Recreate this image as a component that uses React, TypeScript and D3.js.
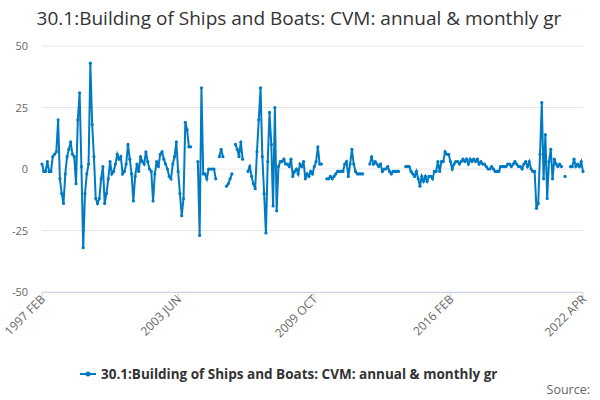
import React, { useEffect, useRef } from 'react';
import * as d3 from 'd3';

// monthly values, 1997 FEB .. 2022 APR (null = no data)
const values: (number | null)[] = [
  2, -1, -1, 3, -1, -1, 5, 6, 7, 20, -4, -10, -14,
  -2, 5, 8, 11, 6, 5, -6, 20, 31, 1, -32, -10,
  -2, 2, 43, 18, 5, -12, -14, -12, -4, 1, -14, -10,
  -4, 3, -2, -1, 2, 6, 4, 5, -2, -1, 2, 10,
  4, -2, -13, -3, 2, -1, 5, 3, 2, 7, 3, 0,
  -1, -13, -2, 3, 1, 6, 7, 4, 2, 0, -3, -4,
  2, 5, 11, -1, -10, -19, -12, 19, 16, 9, 9, null,
  null, null, 3, -27, 33, -2, -2, -4, 0, 0, 0, 0,
  -4, null, 5, 8, 5, null, -7, -6, -4, -2, null,
  10, 8, 5, 11, 4, null, null, -1, 1, -3, -6, -8,
  7, 20, 33, 5, -10, -26, 3, 23, 10, -15, 25, -17,
  1, 3, 3, 4, 2, 2, 1, 4, -3, -1, 0, -2,
  2, 1, 3, -4, -2, -3, -1, -2, 1, 3, 9, 2,
  2, null, null, -4, -4, -3, -4, -3, -2, -1, -1, -1,
  -1, 2, 3, -3, 2, 8, 2, -1, -2, -2, -2, -2,
  null, null, null, 2, 5, 2, 3, 2, 1, 2, -1, 0,
  0, 1, -1, -2, -1, -1, -1, -1, null, null, null,
  1, 1, 1, -1, -2, -3, -1, -4, -7, -3, -5, -3,
  -5, -3, -3, -4, -1, -1, 3, -1, 3, 3, 7, 6,
  6, 3, 0, 2, 3, 3, 2, 3, 4, 3, 4, 2,
  4, 3, 4, 3, 4, 2, 3, 2, 2, 1, 0, 0,
  1, 0, -1, -1, -1, 1, 1, 1, 1, 2, 2, 1,
  2, 3, 2, 1, 1, 0, 2, 3, 1, 3, 0, -1,
  -1, -16, -14, 6, 27, -4, 14, -12, 3, 8, -4, 4,
  2, 1, 2, 1, null, -3, null, null, 1, 1, 4, 1,
  2, 1, 3, -1,
];

const tickIndex = [0, 76, 152, 228, 302];
const tickLabels = ['1997 FEB', '2003 JUN', '2009 OCT', '2016 FEB', '2022 APR'];
const yTicks = [-50, -25, 0, 25, 50];

const title = '30.1:Building of Ships and Boats: CVM: annual & monthly gr';
const color = '#007ac3';

const App: React.FC = () => {
  const ref = useRef<SVGSVGElement>(null);

  useEffect(() => {
    if (!ref.current) return;
    const svg = d3.select(ref.current);
    svg.selectAll('*').remove();
    const font = '"Open Sans", "DejaVu Sans", sans-serif';

    const x = d3.scaleLinear().domain([0, values.length - 1]).range([42, 583]);
    const y = d3.scaleLinear().domain([-50, 50]).range([292, 46]);

    svg.append('text')
      .attr('x', 299).attr('y', 25)
      .attr('text-anchor', 'middle')
      .style('font-family', font).style('font-size', '19px').style('fill', '#333')
      .text(title);

    const g = svg.append('g');
    g.selectAll('.grid').data(yTicks).enter().append('line')
      .attr('x1', 42).attr('x2', 583)
      .attr('y1', (d) => y(d)).attr('y2', (d) => y(d))
      .attr('stroke', '#e6e6e6').attr('stroke-width', 1);

    g.selectAll('.ylab').data(yTicks).enter().append('text')
      .attr('x', 28).attr('y', (d) => y(d) + 4)
      .attr('text-anchor', 'end')
      .style('font-family', font).style('font-size', '11px').style('fill', '#666')
      .text((d) => d);

    g.append('line').attr('x1', 42).attr('x2', 583).attr('y1', 292.5).attr('y2', 292.5)
      .attr('stroke', '#ccd6eb');
    tickIndex.forEach((t, i) => {
      g.append('line').attr('x1', x(t)).attr('x2', x(t)).attr('y1', 292).attr('y2', 302)
        .attr('stroke', '#ccd6eb');
      g.append('text')
        .attr('transform', `translate(${x(t) + 4},${300}) rotate(-45)`)
        .attr('text-anchor', 'end')
        .style('font-family', font).style('font-size', '12px').style('fill', '#666')
        .text(tickLabels[i]);
    });

    const line = d3.line<number | null>()
      .defined((d) => d !== null)
      .x((_, i) => x(i))
      .y((d) => y(d as number));

    g.append('path').datum(values).attr('d', line)
      .attr('fill', 'none').attr('stroke', color).attr('stroke-width', 2);

    g.selectAll('.pt').data(values.map((v, i) => ({ v, i })).filter((d) => d.v !== null))
      .enter().append('circle')
      .attr('cx', (d) => x(d.i)).attr('cy', (d) => y(d.v as number))
      .attr('r', 1.6).attr('fill', color);

    // legend
    const lg = svg.append('g');
    lg.append('line').attr('x1', 80).attr('x2', 96).attr('y1', 374).attr('y2', 374)
      .attr('stroke', color).attr('stroke-width', 2);
    lg.append('circle').attr('cx', 88).attr('cy', 374).attr('r', 2.5).attr('fill', color);
    lg.append('text').attr('x', 101).attr('y', 378.5)
      .style('font-family', font).style('font-size', '13.5px').style('font-weight', 'bold')
      .style('fill', '#333').text(title);

    svg.append('text').attr('x', 590).attr('y', 394).attr('text-anchor', 'end')
      .style('font-family', font).style('font-size', '12.5px').style('fill', '#666')
      .text('Source:');
  }, []);

  return <svg ref={ref} width={600} height={400} style={{ position: 'absolute', left: 0, top: 0 }} />;
};

export default App;
